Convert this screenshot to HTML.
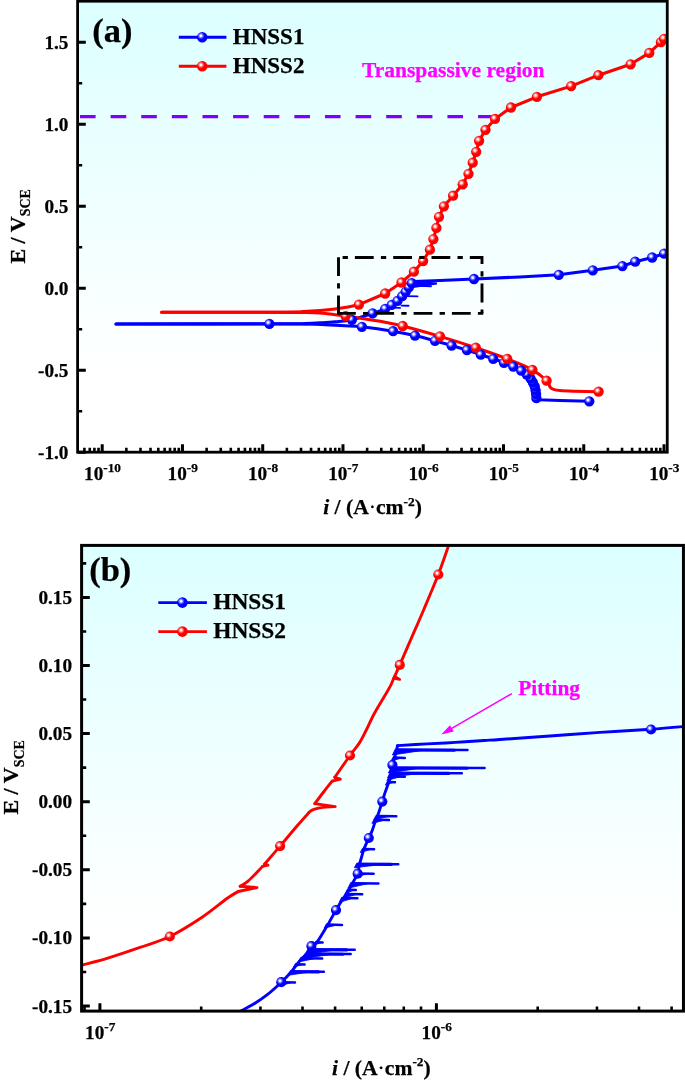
<!DOCTYPE html>
<html lang="en"><head><meta charset="utf-8"><title>Potentiodynamic polarization curves of HNSS1 and HNSS2</title>
<style>html,body{margin:0;padding:0;background:#fff}svg{display:block;will-change:transform}text{font-family:"Liberation Serif", "Times New Roman", serif;font-weight:bold;fill:#000;stroke:#000;stroke-width:.25px}.mg{fill:#ff00ff;stroke:#ff00ff}</style></head><body>
<svg width="685" height="1082" viewBox="0 0 685 1082">
<defs>
<linearGradient id="bg" x1="0" y1="0" x2="0" y2="1"><stop offset="0" stop-color="#dcffff"/><stop offset="0.55" stop-color="#f4ffff"/><stop offset="0.82" stop-color="#ffffff"/><stop offset="1" stop-color="#ffffff"/></linearGradient>
<radialGradient id="gr" cx="0.375" cy="0.365" r="0.56" fx="0.375" fy="0.365"><stop offset="0" stop-color="#ffffff"/><stop offset="0.12" stop-color="#ffffff"/><stop offset="0.34" stop-color="#ff7070"/><stop offset="0.6" stop-color="#ff0000"/><stop offset="1" stop-color="#ff0000"/></radialGradient>
<radialGradient id="gb" cx="0.375" cy="0.365" r="0.56" fx="0.375" fy="0.365"><stop offset="0" stop-color="#ffffff"/><stop offset="0.12" stop-color="#ffffff"/><stop offset="0.34" stop-color="#7070ff"/><stop offset="0.6" stop-color="#0000ff"/><stop offset="1" stop-color="#0000ff"/></radialGradient>
<clipPath id="ca"><rect x="77.6" y="1.2" width="589.65" height="451"/></clipPath>
<clipPath id="cb"><rect x="81.6" y="545.4" width="601.85" height="465.7"/></clipPath>
</defs>
<rect width="685" height="1082" fill="#ffffff"/>
<g id="panel-a">
<rect x="77.6" y="1.2" width="589.65" height="451" fill="url(#bg)"/>
<line x1="80" y1="116.6" x2="495" y2="116.6" stroke="#7f00ff" stroke-width="3.3" stroke-dasharray="15.6 15.02"/>
<g clip-path="url(#ca)">
<g fill="none" stroke="#0000ff" stroke-width="3.05" stroke-linejoin="round" stroke-linecap="round">
<path d="M589.3,401.3 L560,400.4 L538.5,399.8 L536.4,398.2 M536.4,398.2 C536.35,397.52 536.23,395.42 536.1,394.1 C535.97,392.78 535.83,391.6 535.6,390.3 C535.37,389 535.15,387.62 534.7,386.3 C534.25,384.98 533.58,383.68 532.9,382.4 C532.22,381.12 531.62,379.92 530.6,378.6 C529.58,377.28 528.37,375.82 526.8,374.5 C525.23,373.18 523.45,372.02 521.2,370.7 C518.95,369.38 516.17,367.92 513.3,366.6 C510.43,365.28 507.35,364.1 504,362.8 C500.65,361.5 497.07,360.15 493.2,358.8 C489.33,357.45 485.18,356.17 480.8,354.7 C476.42,353.23 471.77,351.53 466.9,350 C462.03,348.47 456.92,347.03 451.6,345.5 C446.28,343.97 441.1,342.45 435,340.8 C428.9,339.15 421.98,337.2 415,335.6 C408.02,334 401.95,332.67 393.1,331.2 C384.25,329.73 369.92,327.72 361.9,326.8 C353.88,325.88 350.32,326.02 345,325.7 C339.68,325.38 335,325.13 330,324.9 C325,324.67 320,324.44 315,324.3 C310,324.16 307.6,324.11 300,324.05 C292.4,323.99 300.07,323.97 269.4,323.95 C238.73,323.93 141.57,323.95 116,323.95"/>
<path d="M116,323.95 C145,323.93 258.5,323.88 290,323.8 C321.5,323.73 300,323.67 305,323.5 C310,323.33 315,323.08 320,322.8 C325,322.52 329.68,322.3 335,321.8 C340.32,321.3 345.63,321.22 351.9,319.8 C358.17,318.38 367.05,315.13 372.6,313.3 C378.15,311.47 382.02,310.2 385.2,308.8 C388.38,307.4 389.65,306.22 391.7,304.9 C393.75,303.58 395.75,302.35 397.5,300.9 C399.25,299.45 400.83,297.72 402.2,296.2 C403.57,294.68 404.6,293.27 405.7,291.8 C406.8,290.33 407.78,288.83 408.8,287.4 C409.82,285.97 411.05,284.17 411.8,283.2 C412.55,282.23 413.05,281.87 413.3,281.6"/>
<path d="M413.3,281.6 L420,281.3 L440,280.6 L474,279 L520,276.9 L558.8,274.8 L592.8,270.3 L622.4,266.1 L635.2,261.7 L652.2,257.5 L664.1,253.6"/>
<path stroke-width="1.9" d="M412,285.6 L431,286.2 M407,296.1 L417.5,296.4 M401.5,305.6 L408.5,305.8 M392,307.6 L400,307.9"/>
<path stroke="none" fill="#0000ff" d="M411.5,280.6 L437,282.6 L437,284.6 L409.6,288.4 Z"/>
</g>
<g fill="none" stroke="#ff0000" stroke-width="3.05" stroke-linejoin="round" stroke-linecap="round">
<path d="M598.6,391.7 C594.67,391.62 581.43,391.38 575,391.2 C568.57,391.02 563.58,390.9 560,390.6 C556.42,390.3 555.13,389.97 553.5,389.4 C551.87,388.83 551.35,388.65 550.2,387.2 C549.05,385.75 549.57,383.6 546.6,380.7 C543.63,377.8 538.97,373.45 532.4,369.8 C525.83,366.15 516.63,362.48 507.2,358.8 C497.77,355.12 487,351.43 475.8,347.7 C464.6,343.97 452.18,340.02 440,336.4 C427.82,332.78 412.7,328.52 402.7,326 C392.7,323.48 386.78,322.57 380,321.3 C373.22,320.03 367.73,319.25 362,318.4 C356.27,317.55 350.6,316.9 345.6,316.2 C340.6,315.5 336.27,314.73 332,314.2 C327.73,313.67 324.5,313.28 320,313 C315.5,312.72 310,312.61 305,312.5 C300,312.39 313.9,312.38 290,312.35 C266.1,312.32 183,312.31 161.6,312.3"/>
<path d="M161.6,312.3 C182.17,312.28 261.43,312.32 285,312.2 C308.57,312.08 297.17,311.88 303,311.6 C308.83,311.32 314.67,310.93 320,310.5 C325.33,310.07 330.33,309.58 335,309 C339.67,308.42 344.02,307.73 348,307 C351.98,306.27 357.08,305 358.9,304.6"/>
<path d="M358.9,304.6 L385.2,293.5 L401.5,282.5 L413.9,271.7 L423.1,261 L429.9,249.7 L433.4,239.1 L436.4,227.9 L439,216.8 L443.9,206.3 L453.1,195.7 L462.7,184.3 L468.5,173.8 L472.7,162.7 L476.2,151.8 L479.1,140.8 L485.5,129.8 L495,118.9 L511,107.5 L536.9,96.8 L571.2,86.1 L598.4,75.2 L630.6,64.3 L649.3,52.9 L660.9,42.1 L664,38.8"/>
</g>
<circle cx="589.3" cy="401.3" r="5.15" fill="url(#gb)"/><circle cx="536.4" cy="398.2" r="5.15" fill="url(#gb)"/><circle cx="536.1" cy="394.1" r="5.15" fill="url(#gb)"/><circle cx="535.6" cy="390.3" r="5.15" fill="url(#gb)"/><circle cx="534.7" cy="386.3" r="5.15" fill="url(#gb)"/><circle cx="532.9" cy="382.4" r="5.15" fill="url(#gb)"/><circle cx="530.6" cy="378.6" r="5.15" fill="url(#gb)"/><circle cx="526.8" cy="374.5" r="5.15" fill="url(#gb)"/><circle cx="521.2" cy="370.7" r="5.15" fill="url(#gb)"/><circle cx="513.3" cy="366.6" r="5.15" fill="url(#gb)"/><circle cx="504" cy="362.8" r="5.15" fill="url(#gb)"/><circle cx="493.2" cy="358.8" r="5.15" fill="url(#gb)"/><circle cx="480.8" cy="354.7" r="5.15" fill="url(#gb)"/><circle cx="466.9" cy="350" r="5.15" fill="url(#gb)"/><circle cx="451.6" cy="345.5" r="5.15" fill="url(#gb)"/><circle cx="435" cy="340.8" r="5.15" fill="url(#gb)"/><circle cx="415" cy="335.6" r="5.15" fill="url(#gb)"/><circle cx="393.1" cy="331.2" r="5.15" fill="url(#gb)"/><circle cx="361.9" cy="326.8" r="5.15" fill="url(#gb)"/><circle cx="269.4" cy="323.8" r="5.15" fill="url(#gb)"/>
<circle cx="351.9" cy="319.8" r="5.15" fill="url(#gb)"/><circle cx="372.6" cy="313.3" r="5.15" fill="url(#gb)"/><circle cx="385.2" cy="308.8" r="5.15" fill="url(#gb)"/><circle cx="391.7" cy="304.9" r="5.15" fill="url(#gb)"/><circle cx="397.5" cy="300.9" r="5.15" fill="url(#gb)"/><circle cx="402.2" cy="296.2" r="5.15" fill="url(#gb)"/><circle cx="405.7" cy="291.8" r="5.15" fill="url(#gb)"/><circle cx="408.8" cy="287.4" r="5.15" fill="url(#gb)"/><circle cx="411.8" cy="283.2" r="5.15" fill="url(#gb)"/><circle cx="474" cy="279" r="5.15" fill="url(#gb)"/><circle cx="558.8" cy="274.8" r="5.15" fill="url(#gb)"/><circle cx="592.8" cy="270.3" r="5.15" fill="url(#gb)"/><circle cx="622.4" cy="266.1" r="5.15" fill="url(#gb)"/><circle cx="635.2" cy="261.7" r="5.15" fill="url(#gb)"/><circle cx="652.2" cy="257.5" r="5.15" fill="url(#gb)"/><circle cx="664.1" cy="253.6" r="5.15" fill="url(#gb)"/>
<circle cx="598.6" cy="391.7" r="5.15" fill="url(#gr)"/><circle cx="546.6" cy="380.7" r="5.15" fill="url(#gr)"/><circle cx="532.4" cy="369.8" r="5.15" fill="url(#gr)"/><circle cx="507.2" cy="358.8" r="5.15" fill="url(#gr)"/><circle cx="475.8" cy="347.7" r="5.15" fill="url(#gr)"/><circle cx="440" cy="336.4" r="5.15" fill="url(#gr)"/><circle cx="402.7" cy="326" r="5.15" fill="url(#gr)"/><circle cx="345.6" cy="316.1" r="5.15" fill="url(#gr)"/>
<circle cx="358.9" cy="304.6" r="5.15" fill="url(#gr)"/><circle cx="385.2" cy="293.5" r="5.15" fill="url(#gr)"/><circle cx="401.5" cy="282.5" r="5.15" fill="url(#gr)"/><circle cx="413.9" cy="271.7" r="5.15" fill="url(#gr)"/><circle cx="423.1" cy="261" r="5.15" fill="url(#gr)"/><circle cx="429.9" cy="249.7" r="5.15" fill="url(#gr)"/><circle cx="433.4" cy="239.1" r="5.15" fill="url(#gr)"/><circle cx="436.4" cy="227.9" r="5.15" fill="url(#gr)"/><circle cx="439" cy="216.8" r="5.15" fill="url(#gr)"/><circle cx="443.9" cy="206.3" r="5.15" fill="url(#gr)"/><circle cx="453.1" cy="195.7" r="5.15" fill="url(#gr)"/><circle cx="462.7" cy="184.3" r="5.15" fill="url(#gr)"/><circle cx="468.5" cy="173.8" r="5.15" fill="url(#gr)"/><circle cx="472.7" cy="162.7" r="5.15" fill="url(#gr)"/><circle cx="476.2" cy="151.8" r="5.15" fill="url(#gr)"/><circle cx="479.1" cy="140.8" r="5.15" fill="url(#gr)"/><circle cx="485.5" cy="129.8" r="5.15" fill="url(#gr)"/><circle cx="495" cy="118.9" r="5.15" fill="url(#gr)"/><circle cx="511" cy="107.5" r="5.15" fill="url(#gr)"/><circle cx="536.9" cy="96.8" r="5.15" fill="url(#gr)"/><circle cx="571.2" cy="86.1" r="5.15" fill="url(#gr)"/><circle cx="598.4" cy="75.2" r="5.15" fill="url(#gr)"/><circle cx="630.6" cy="64.3" r="5.15" fill="url(#gr)"/><circle cx="649.3" cy="52.9" r="5.15" fill="url(#gr)"/><circle cx="660.9" cy="42.1" r="5.15" fill="url(#gr)"/><circle cx="664" cy="38.8" r="5.15" fill="url(#gr)"/>
</g>
<g fill="none" stroke="#000" stroke-width="2.9">
<path d="M338.5,257.5 H482 V313.4" stroke-dasharray="18.8 7.2 5.3 7" stroke-dashoffset="21.9"/>
<path d="M338.5,257.2 V313.4" stroke-dasharray="18.8 7.2 5.3 7"/>
<path d="M337,313.4 H483.4" stroke-dasharray="18.8 7.2 5.3 7"/>
</g>
<rect x="77.6" y="1.2" width="589.65" height="451" fill="none" stroke="#000" stroke-width="2.8"/>
<path d="M77.6,452.2 H85.8 M77.6,370.2 H85.8 M77.6,288.2 H85.8 M77.6,206.2 H85.8 M77.6,124.2 H85.8 M77.6,42.2 H85.8 M102.2,452.2 V444.3 M182.46,452.2 V444.3 M262.72,452.2 V444.3 M342.98,452.2 V444.3 M423.24,452.2 V444.3 M503.5,452.2 V444.3 M583.76,452.2 V444.3 M664.02,452.2 V444.3" stroke="#000" stroke-width="3" fill="none"/>
<path d="M77.6,411.2 H82.2 M77.6,329.2 H82.2 M77.6,247.2 H82.2 M77.6,165.2 H82.2 M77.6,83.2 H82.2 M84.39,452.2 V447.8 M89.77,452.2 V447.8 M94.42,452.2 V447.8 M98.53,452.2 V447.8 M126.36,452.2 V447.8 M140.49,452.2 V447.8 M150.52,452.2 V447.8 M158.3,452.2 V447.8 M164.65,452.2 V447.8 M170.03,452.2 V447.8 M174.68,452.2 V447.8 M178.79,452.2 V447.8 M206.62,452.2 V447.8 M220.75,452.2 V447.8 M230.78,452.2 V447.8 M238.56,452.2 V447.8 M244.91,452.2 V447.8 M250.29,452.2 V447.8 M254.94,452.2 V447.8 M259.05,452.2 V447.8 M286.88,452.2 V447.8 M301.01,452.2 V447.8 M311.04,452.2 V447.8 M318.82,452.2 V447.8 M325.17,452.2 V447.8 M330.55,452.2 V447.8 M335.2,452.2 V447.8 M339.31,452.2 V447.8 M367.14,452.2 V447.8 M381.27,452.2 V447.8 M391.3,452.2 V447.8 M399.08,452.2 V447.8 M405.43,452.2 V447.8 M410.81,452.2 V447.8 M415.46,452.2 V447.8 M419.57,452.2 V447.8 M447.4,452.2 V447.8 M461.53,452.2 V447.8 M471.56,452.2 V447.8 M479.34,452.2 V447.8 M485.69,452.2 V447.8 M491.07,452.2 V447.8 M495.72,452.2 V447.8 M499.83,452.2 V447.8 M527.66,452.2 V447.8 M541.79,452.2 V447.8 M551.82,452.2 V447.8 M559.6,452.2 V447.8 M565.95,452.2 V447.8 M571.33,452.2 V447.8 M575.98,452.2 V447.8 M580.09,452.2 V447.8 M607.92,452.2 V447.8 M622.05,452.2 V447.8 M632.08,452.2 V447.8 M639.86,452.2 V447.8 M646.21,452.2 V447.8 M651.59,452.2 V447.8 M656.24,452.2 V447.8 M660.35,452.2 V447.8" stroke="#000" stroke-width="2.6" fill="none"/>
<g font-size="19.2" text-anchor="end">
<text x="68.4" y="48.7">1.5</text>
<text x="68.4" y="130.7">1.0</text>
<text x="68.4" y="212.7">0.5</text>
<text x="68.4" y="294.7">0.0</text>
<text x="68.4" y="376.7">-0.5</text>
<text x="68.4" y="458.7">-1.0</text>
</g>
<g font-size="19.2" text-anchor="start">
<text x="84.04" y="479.8">10<tspan dy="-7.4" font-size="13.3">-10</tspan></text>
<text x="167.62" y="479.8">10<tspan dy="-7.4" font-size="13.3">-9</tspan></text>
<text x="247.88" y="479.8">10<tspan dy="-7.4" font-size="13.3">-8</tspan></text>
<text x="328.14" y="479.8">10<tspan dy="-7.4" font-size="13.3">-7</tspan></text>
<text x="408.4" y="479.8">10<tspan dy="-7.4" font-size="13.3">-6</tspan></text>
<text x="488.66" y="479.8">10<tspan dy="-7.4" font-size="13.3">-5</tspan></text>
<text x="568.92" y="479.8">10<tspan dy="-7.4" font-size="13.3">-4</tspan></text>
<text x="649.18" y="479.8">10<tspan dy="-7.4" font-size="13.3">-3</tspan></text>
</g>
<text x="323.2" y="514.3" font-size="21.6"><tspan font-style="italic">i</tspan> / (A<tspan font-weight="normal">&#183;</tspan>cm<tspan dy="-8.3" font-size="13.4">-2</tspan><tspan dy="8.3">)</tspan></text>
<text transform="translate(24.8,263.6) rotate(-90)" font-size="22">E / V<tspan dy="5.5" font-size="14">SCE</tspan></text>
<text x="92.2" y="41.7" font-size="34.5">(a)</text>
<g stroke-width="2.9"><line x1="178.8" y1="37.2" x2="226.4" y2="37.2" stroke="#0000ff"/><line x1="178.8" y1="66.3" x2="226.4" y2="66.3" stroke="#ff0000"/></g>
<circle cx="202.2" cy="37.2" r="5.3" fill="url(#gb)"/><circle cx="202.2" cy="66.3" r="5.3" fill="url(#gr)"/>
<text x="232.8" y="43.6" font-size="23">HNSS1</text><text x="232.8" y="72.7" font-size="23">HNSS2</text>
<text x="362" y="77" font-size="21.5" class="mg">Transpassive region</text>
</g>
<g id="panel-b">
<rect x="81.6" y="545.4" width="601.85" height="465.7" fill="url(#bg)"/>
<g clip-path="url(#cb)">
<g fill="none" stroke="#ff0000" stroke-width="2.9" stroke-linejoin="round" stroke-linecap="round">
<path d="M83,964.8 C87.13,963.68 98.3,961 107.8,958.1 C117.3,955.2 129.67,951 140,947.4 C150.33,943.8 159.45,941.53 169.8,936.5 C180.15,931.47 192.58,923.53 202.1,917.2 C211.62,910.87 220.88,902.78 226.9,898.5 C232.92,894.22 234.43,893.83 238.2,891.5"/>
<path d="M238.2,891.5 L257,887.6 L240.2,886.3"/>
<path d="M240.2,886.3 C241.5,885.45 244.25,884.53 248,881.2 C251.75,877.87 260.25,868.78 262.7,866.3"/>
<path d="M262.7,866.3 L268,865.2 L264.5,864.2"/>
<path d="M264.5,864.2 C267.1,861.18 274.68,852.47 280.1,846.1 C285.52,839.73 292.23,831.55 297,826 C301.77,820.45 306.75,815 308.7,812.8"/>
<path d="M308.7,812.8 C312,808 322,807 335.3,806.6 L314.8,803.6"/>
<path d="M314.8,803.6 C316.33,801.58 321.1,795.25 324,791.5 C326.9,787.75 330.83,782.83 332.2,781.1"/>
<path d="M332.2,781.1 L340.4,779.2 L334.8,777.3"/>
<path d="M334.8,777.3 C337.33,773.67 345.87,761.28 350,755.5 C354.13,749.72 356.88,746.85 359.6,742.6 C362.32,738.35 363.87,734.82 366.3,730 C368.73,725.18 371.25,719.2 374.2,713.7 C377.15,708.2 381.32,701.6 384,697 C386.68,692.4 388.68,689.23 390.3,686.1 C391.92,682.97 393.13,679.52 393.7,678.2"/>
<path d="M393.7,678.2 L399.6,679.4 L394.6,676.5"/>
<path d="M394.6,676.5 C395.47,674.57 397.07,671.15 399.8,664.9 C402.53,658.65 407.05,648.12 411,639 C414.95,629.88 418.95,620.95 423.5,610.2 C428.05,599.45 434.18,585.1 438.3,574.5 C442.42,563.9 445.92,553.18 448.2,546.6 C450.48,540.02 451.37,536.93 452,535"/>
</g>
<g fill="none" stroke="#0000ff" stroke-width="2.9" stroke-linejoin="round" stroke-linecap="round">
<path d="M236,1014 C236.58,1013.64 238.78,1012.16 241,1010.9 C243.22,1009.64 251.93,1005.09 255,1003.2 C258.07,1001.31 264.23,997.15 267.3,994.7 C270.37,992.25 278.44,984.94 281.3,982.2 C284.16,979.46 289.97,973.3 291.8,971.2 C293.63,969.1 295.77,965.74 297,964.2 C298.23,962.66 301.13,959.25 302.3,958 C303.47,956.75 306.16,954.49 307,953.5 C307.84,952.51 308.99,950.36 309.5,949.5 C310.01,948.64 310.51,946.98 311.4,946.1 C312.29,945.23 315.18,944.52 317.1,942 C319.03,939.48 325.69,928.22 327.9,924.5 C330.1,920.78 334.21,913.13 336,910.1 C337.79,907.07 341.94,900.44 343.2,898.5 C344.46,896.56 345.74,895.25 346.8,893.5 C347.86,891.75 351.03,885.81 352.3,883.5 C353.57,881.19 356.87,875.92 357.7,873.7 C358.53,871.48 358.94,866.45 359.4,864.5 C359.85,862.55 361.06,858.83 361.6,857 C362.14,855.17 363.16,851.02 364,848.8 C364.84,846.58 367.86,840.1 368.8,838 C369.75,835.9 371.3,832.9 372.1,830.8 C372.91,828.7 375.06,821.75 375.7,820 C376.34,818.25 376.83,817.95 377.6,815.8 C378.37,813.65 381.41,804.37 382.3,801.6 C383.19,798.84 384.42,794.42 385.2,792.1 C385.98,789.78 388.33,783.58 389,781.7 C389.67,779.82 390.57,777.07 390.9,776 C391.23,774.93 391.6,773.55 391.8,772.5 C392,771.45 392.53,767.88 392.6,767 C392.67,766.12 392.15,766.17 392.4,765 C392.64,763.83 394.21,758.75 394.7,757 C395.19,755.25 396.27,751.33 396.6,750 C396.93,748.67 397.39,746.11 397.5,745.6"/>
<path d="M397.5,745.6 C402.4,745.32 417.25,744.43 426.9,743.9 C436.55,743.37 445.9,742.97 455.4,742.4 C464.9,741.83 476.47,740.98 483.9,740.5 C491.33,740.02 488.98,740.25 500,739.5 C511.02,738.75 533.33,737.18 550,736 C566.67,734.82 583.17,733.52 600,732.4 C616.83,731.28 636,730.37 651,729.3 C666,728.23 683.5,726.55 690,726"/>
</g>
<path d="M284.8,982.2 L295,982.5 M291.8,971.5 L323.9,971.8 M297,964.2 L304.6,964.5 M302.3,958.2 L322.2,958.5 M307,953.8 L350.7,954.1 M309.5,949.5 L354.7,949.8 M317.1,942.2 L322.6,942.5 M327.9,924.6 L342,924.9 M343.2,898 L357.4,898.3 M346.8,894 L362.2,894.3 M349,889.7 L355.8,890 M352.3,883.2 L378.4,883.5 M357.7,873.5 L373.6,873.8 M358.2,864 L398.3,864.3 M364,849 L374.1,849.3 M375.7,819.8 L388.9,820.1 M377.6,816 L396.3,816.3 M389,781.9 L395,782.2 M390.9,776.4 L404.8,776.7 M391.8,773 L461.8,773.3 M392.8,767.8 L484.6,768.1 M394.7,757.6 L404.8,757.9 M396.8,749.8 L467.5,750.1" fill="none" stroke="#0000ff" stroke-width="2.5" stroke-linecap="round"/>
<path d="M291.8,971.7 L318.44,971.9 M307,954 L342.92,954.2 M309.5,949.7 L346.62,949.9 M358.2,864.2 L391.24,864.4 M391.8,773.2 L448.76,773.4 M392.8,768 L467.2,768.2 M396.8,750 L454.32,750.2" fill="none" stroke="#0000ff" stroke-width="3.1" stroke-linecap="round"/>
<path d="M283.3,981.4 L291.07,982.8 L281.16,985.4 Z M290.3,970.7 L310.12,972.1 L287.92,975.3 Z M295.5,963.4 L301.84,964.8 L293.44,967.2 Z M300.8,957.4 L313.9,958.8 L298.42,962 Z M305.5,953 L331.69,954.4 L302.8,958.4 Z M308,948.7 L335.02,950.1 L305.14,954.5 Z M315.6,941.4 L320.79,942.8 L313.54,945.2 Z M326.4,923.8 L336.31,925.2 L324.1,928.2 Z M341.7,897.2 L351.67,898.6 L339,902.6 Z M345.3,893.2 L355.93,894.6 L342.76,898.2 Z M347.5,888.9 L353.4,890.3 L345,893.8 Z M350.8,882.4 L367.31,883.8 L347.94,888.2 Z M356.2,872.7 L367.11,874.1 L353.9,877.1 Z M356.7,863.2 L380.92,864.6 L354.32,867.8 Z M362.5,848.2 L370.22,849.6 L360.2,852.6 Z M374.2,819 L383.62,820.4 L371.9,823.4 Z M376.1,815.2 L388.55,816.6 L373.72,819.8 Z M387.5,781.1 L392.96,782.5 L385.36,785.1 Z M389.4,775.6 L399.2,777 L386.86,780.6 Z M390.3,772.2 L417.8,773.6 L387.52,777.8 Z M391.3,767 L418.8,768.4 L388.36,773 Z M393.2,756.8 L400.92,758.2 L390.9,761.2 Z M395.3,749 L422.8,750.4 L392.36,755 Z" fill="#0000ff" stroke="#0000ff" stroke-width="0.8" stroke-linejoin="round"/>
<circle cx="281.3" cy="982.2" r="5.1" fill="url(#gb)"/><circle cx="311.4" cy="946.1" r="5.1" fill="url(#gb)"/><circle cx="336" cy="910.1" r="5.1" fill="url(#gb)"/><circle cx="357.7" cy="873.7" r="5.1" fill="url(#gb)"/><circle cx="368.8" cy="838" r="5.1" fill="url(#gb)"/><circle cx="382.3" cy="801.6" r="5.1" fill="url(#gb)"/><circle cx="392.4" cy="765" r="5.1" fill="url(#gb)"/><circle cx="651" cy="729.5" r="5.1" fill="url(#gb)"/>
<circle cx="169.8" cy="936.5" r="5.1" fill="url(#gr)"/><circle cx="280.1" cy="846.1" r="5.1" fill="url(#gr)"/><circle cx="350" cy="755.5" r="5.1" fill="url(#gr)"/><circle cx="399.8" cy="664.9" r="5.1" fill="url(#gr)"/><circle cx="438.3" cy="574.5" r="5.1" fill="url(#gr)"/>
</g>
<line x1="511.9" y1="693.6" x2="450" y2="729.4" stroke="#ff00ff" stroke-width="1.6"/>
<path d="M441.2,734.5 L450.0,725.2 L453.6,731.4 Z" fill="#ff00ff"/>
<text x="518.2" y="694.8" font-size="21.4" class="mg">Pitting</text>
<rect x="81.6" y="545.4" width="601.85" height="465.7" fill="none" stroke="#000" stroke-width="3"/>
<path d="M81.6,1006 H89.8 M81.6,937.9 H89.8 M81.6,869.8 H89.8 M81.6,801.7 H89.8 M81.6,733.6 H89.8 M81.6,665.5 H89.8 M81.6,597.4 H89.8 M99.9,1011.1 V1003.2 M436.4,1011.1 V1003.2" stroke="#000" stroke-width="3" fill="none"/>
<path d="M81.6,971.95 H86.2 M81.6,903.85 H86.2 M81.6,835.75 H86.2 M81.6,767.65 H86.2 M81.6,699.55 H86.2 M81.6,631.45 H86.2 M81.6,563.35 H86.2 M84.5,1011.1 V1006.4 M201.2,1011.1 V1006.4 M260.45,1011.1 V1006.4 M302.49,1011.1 V1006.4 M335.1,1011.1 V1006.4 M361.75,1011.1 V1006.4 M384.28,1011.1 V1006.4 M403.79,1011.1 V1006.4 M421,1011.1 V1006.4 M537.7,1011.1 V1006.4 M596.95,1011.1 V1006.4 M638.99,1011.1 V1006.4 M671.6,1011.1 V1006.4" stroke="#000" stroke-width="2.6" fill="none"/>
<g font-size="19.2" text-anchor="end">
<text x="72" y="603.9">0.15</text>
<text x="72" y="672">0.10</text>
<text x="72" y="740.1">0.05</text>
<text x="72" y="808.2">0.00</text>
<text x="72" y="876.3">-0.05</text>
<text x="72" y="944.4">-0.10</text>
<text x="72" y="1012.5">-0.15</text>
</g>
<g font-size="19.2" text-anchor="start">
<text x="85.06" y="1038.6">10<tspan dy="-7.4" font-size="13.3">-7</tspan></text>
<text x="421.56" y="1038.6">10<tspan dy="-7.4" font-size="13.3">-6</tspan></text>
</g>
<text x="332" y="1074.7" font-size="21.6"><tspan font-style="italic">i</tspan> / (A<tspan font-weight="normal">&#183;</tspan>cm<tspan dy="-8.3" font-size="13.4">-2</tspan><tspan dy="8.3">)</tspan></text>
<text transform="translate(18.4,814.6) rotate(-90)" font-size="22">E / V<tspan dy="5.5" font-size="14">SCE</tspan></text>
<text x="89.2" y="580.6" font-size="34.5">(b)</text>
<g stroke-width="2.9"><line x1="158.3" y1="602.6" x2="206.9" y2="602.6" stroke="#0000ff"/><line x1="158.3" y1="631.6" x2="206.9" y2="631.6" stroke="#ff0000"/></g>
<circle cx="182.4" cy="602.6" r="5.3" fill="url(#gb)"/><circle cx="182.4" cy="631.6" r="5.3" fill="url(#gr)"/>
<text x="213.2" y="609.2" font-size="23.4">HNSS1</text><text x="213.2" y="638.2" font-size="23.4">HNSS2</text>
</g>
</svg></body></html>
